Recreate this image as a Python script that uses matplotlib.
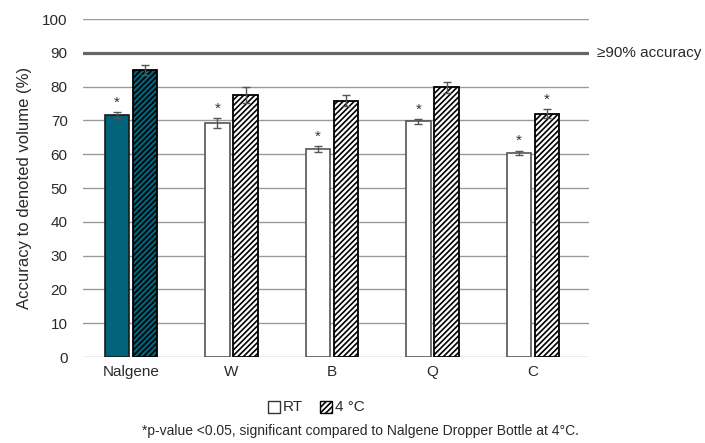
import matplotlib.pyplot as plt
import numpy as np
from matplotlib.patches import Rectangle

plt.rcParams['font.family'] = ['Liberation Sans', 'DejaVu Sans']
plt.rcParams['hatch.linewidth'] = 1.2

categories = ['Nalgene', 'W', 'B', 'Q', 'C']
rt = [71.5, 69.3, 61.5, 69.7, 60.4]
rt_err = [0.9, 1.4, 0.9, 0.7, 0.7]
cold = [85.0, 77.5, 75.9, 79.8, 72.0]
cold_err = [1.5, 2.4, 1.5, 1.6, 1.4]
rt_star = [True, True, True, True, True]
cold_star = [False, False, False, False, True]

teal = '#00637a'
fig = plt.figure(figsize=(7.05, 4.43), dpi=100)
ax = fig.add_axes([83 / 705, 0.194, 506 / 705, 0.763])

x = np.arange(len(categories))
w = 0.245
off = 0.14
rt_face = [teal] + ['white'] * 4
cold_face = [teal] + ['white'] * 4
ax.bar(x - off, rt, w, color=rt_face, edgecolor=['#1a1a1a'] + ['#555555'] * 4, linewidth=1.2, zorder=3)
ax.bar(x + off, cold, w, color=cold_face, edgecolor='black', hatch='//////', linewidth=1.3, zorder=3)
ax.errorbar(x - off, rt, yerr=rt_err, fmt='none', ecolor='#555555', elinewidth=1, capsize=3, zorder=4)
ax.errorbar(x + off, cold, yerr=cold_err, fmt='none', ecolor='#555555', elinewidth=1, capsize=3, zorder=4)
for i in range(len(categories)):
    if rt_star[i]:
        ax.text(x[i] - off, rt[i] + rt_err[i] + 0.7, '*', ha='center', va='bottom', fontsize=11, color='#333333')
    if cold_star[i]:
        ax.text(x[i] + off, cold[i] + cold_err[i] + 0.7, '*', ha='center', va='bottom', fontsize=11, color='#333333')

ax.set_xlim(-0.478, 4.557)
ax.set_ylim(0, 100)
ax.set_yticks(range(0, 101, 10))
for yv in range(10, 101, 10):
    if yv == 90:
        ax.axhline(yv, color='#666666', lw=2.3, zorder=1)
    else:
        ax.axhline(yv, color='#9a9a9a', lw=1, zorder=1)
ax.axhline(0, color='#9a9a9a', lw=1, zorder=1)
ax.set_xticks(x)
ax.set_xticklabels(categories)
ax.tick_params(length=0, labelsize=11, colors='#2a2a2a', pad=6)
ax.tick_params(axis='y', pad=11)
for s in ax.spines.values():
    s.set_visible(False)
ax.set_ylabel('Accuracy to denoted volume (%)', fontsize=12, color='#2a2a2a', labelpad=7)
ax.text(1.016, 90, '\u226590% accuracy', transform=ax.get_yaxis_transform(), va='center', ha='left',
        fontsize=11, color='#2a2a2a')

# legend
fig.patches.append(Rectangle((268 / 705, 1 - 413 / 443), 12 / 705, 12 / 443, transform=fig.transFigure,
                             facecolor='white', edgecolor='#333333', lw=1))
fig.text(283 / 705, 1 - 407 / 443, 'RT', fontsize=11, va='center', color='#2a2a2a')
fig.patches.append(Rectangle((320 / 705, 1 - 413 / 443), 12 / 705, 12 / 443, transform=fig.transFigure,
                             facecolor='white', edgecolor='black', hatch='//////', lw=1))
fig.text(335 / 705, 1 - 407 / 443, '4 \u00b0C', fontsize=11, va='center', color='#2a2a2a')
fig.text(360 / 705, 1 - 431 / 443, '*p-value <0.05, significant compared to Nalgene Dropper Bottle at 4\u00b0C.',
         fontsize=10, ha='center', va='center', color='#2a2a2a')

fig.savefig('out.png', dpi=100)
